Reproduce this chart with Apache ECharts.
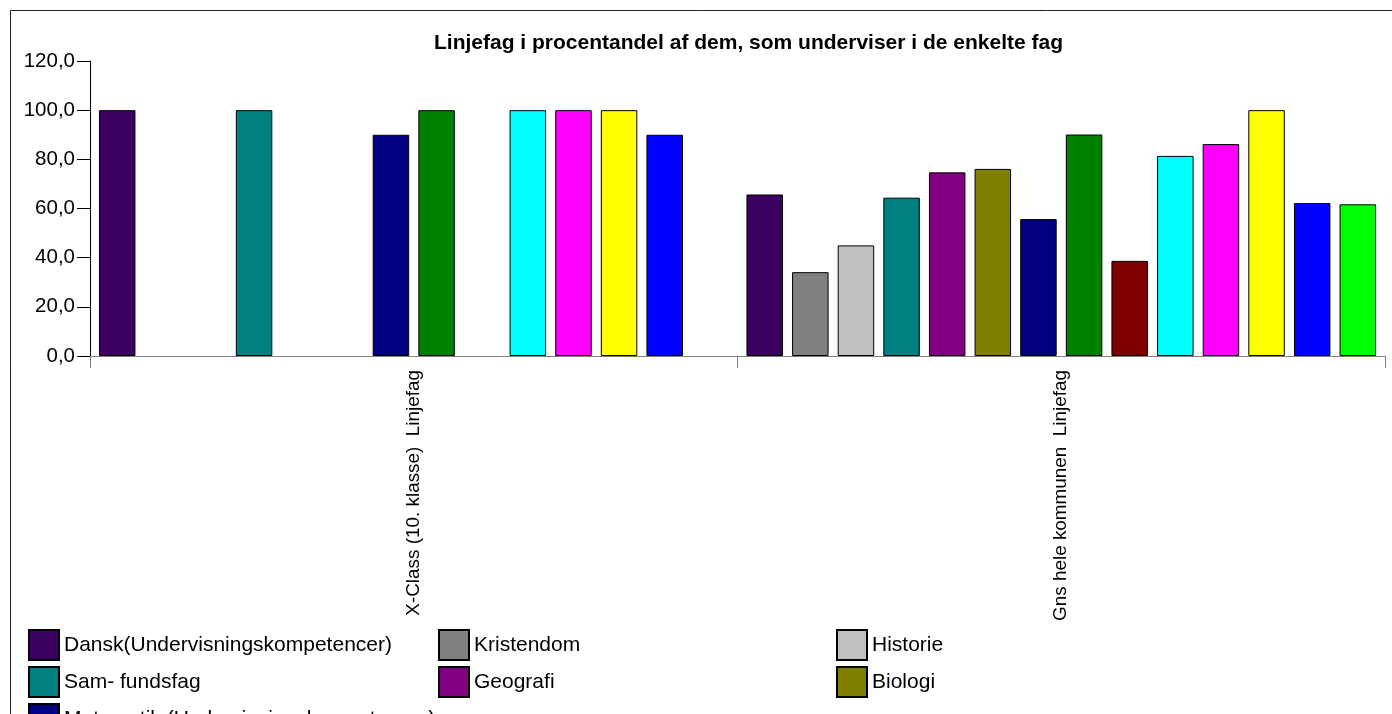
<!DOCTYPE html>
<html>
<head>
<meta charset="utf-8">
<script src="https://cdn.jsdelivr.net/npm/echarts@6/dist/echarts.min.js"></script>
<style>
html,body{margin:0;padding:0;background:#fff;}
#chart{width:1392px;height:714px;}
</style>
</head>
<body>
<div id="chart"></div>
<script>
const titleText = 'Linjefag i procentandel af dem, som underviser i de enkelte fag';
const categories = ['X-Class (10. klasse)  Linjefag', 'Gns hele kommunen  Linjefag'];
const seriesNames = [
  'Dansk(Undervisningskompetencer)', 'Kristendom', 'Historie',
  'Sam- fundsfag', 'Geografi', 'Biologi',
  'Matematik (Undervisningskompetencer)', 'Fysik/kemi', 'Natur/teknik',
  'Engelsk', 'Tysk', 'Idræt',
  'Musik', 'Billedkunst'
];
const seriesColors = [
  '#3c005f', '#808080', '#c0c0c0',
  '#008080', '#800080', '#808000',
  '#000080', '#008000', '#800000',
  '#00ffff', '#ff00ff', '#ffff00',
  '#0000ff', '#00ff00'
];
const xclassValues = [100, null, null, 100, null, null, 90, 100, null, 100, 100, 100, 90, null];
const gnsValues = [65.7, 34.1, 45.0, 64.4, 74.7, 76.1, 55.7, 90.1, 38.7, 81.4, 86.2, 100, 62.2, 61.7];
const yTicks = [0, 20, 40, 60, 80, 100, 120];
// legend entries visible in the (clipped) legend, by column
const legendColumns = [
  [seriesNames[0], seriesNames[3], seriesNames[6]],
  [seriesNames[1], seriesNames[4]],
  [seriesNames[2], seriesNames[5]]
];

const FONT = 'Liberation Sans, Arial, sans-serif';
const chart = echarts.init(document.getElementById('chart'), null, {renderer: 'canvas'});

const series = seriesNames.map((name, i) => ({
  name: name,
  type: 'bar',
  barWidth: 36.5,
  barGap: '25%',
  itemStyle: {color: seriesColors[i], borderColor: '#000', borderWidth: 1},
  data: [xclassValues[i] == null ? '-' : xclassValues[i], gnsValues[i] == null ? '-' : gnsValues[i]]
}));

function legendCol(col, left) {
  return {
    type: 'plain',
    orient: 'vertical',
    left: left,
    top: 629,
    width: 380,
    height: 400,
    padding: 0,
    itemGap: 5,
    itemWidth: 30,
    itemHeight: 30,
    icon: 'rect',
    selectedMode: false,
    data: legendColumns[col],
    textStyle: {fontFamily: FONT, fontSize: 21, color: '#000'}
  };
}

chart.setOption({
  animation: false,
  backgroundColor: '#fff',
  title: {
    text: titleText,
    left: 434,
    top: 33,
    padding: 0,
    textStyle: {fontFamily: FONT, fontSize: 21, fontWeight: 'bold', color: '#000'}
  },
  graphic: [{
    type: 'rect',
    shape: {x: 10.5, y: 10.5, width: 1500, height: 1000},
    style: {fill: 'none', stroke: '#222', lineWidth: 1},
    silent: true
  }],
  legend: [legendCol(0, 28), legendCol(1, 438), legendCol(2, 836)],
  grid: {left: 90, right: 7, top: 61, bottom: 358, containLabel: false},
  xAxis: {
    type: 'category',
    data: categories,
    boundaryGap: true,
    axisLine: {lineStyle: {color: '#808080', width: 1}},
    axisTick: {show: true, length: 12, alignWithLabel: false, lineStyle: {color: '#808080'}},
    axisLabel: {rotate: 90, margin: 14, fontFamily: FONT, fontSize: 18.9, color: '#000'},
    splitLine: {show: false}
  },
  yAxis: {
    type: 'value',
    min: yTicks[0],
    max: yTicks[yTicks.length - 1],
    interval: yTicks[1] - yTicks[0],
    axisLine: {show: true, lineStyle: {color: '#000', width: 1}},
    axisTick: {show: true, length: 13, lineStyle: {color: '#000'}},
    axisLabel: {
      margin: 15,
      fontFamily: FONT, fontSize: 20.5, color: '#000',
      formatter: v => v.toFixed(1).replace('.', ',')
    },
    splitLine: {show: false}
  },
  series: series
});
</script>
</body>
</html>
